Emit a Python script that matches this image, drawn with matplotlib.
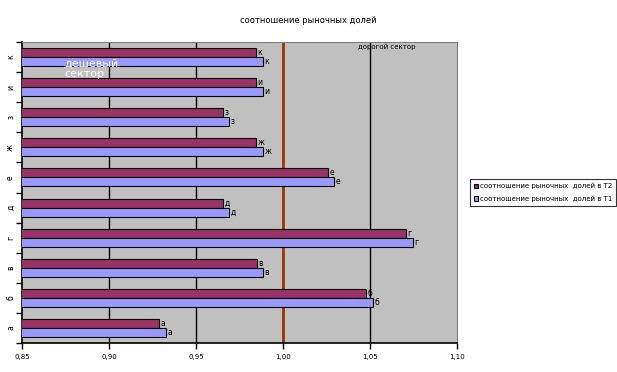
import matplotlib
matplotlib.use("Agg")
import matplotlib.pyplot as plt
import numpy as np

categories = ["а", "б", "в", "г", "д", "е", "ж", "з", "и", "к"]
share_t2 = [0.929, 1.0475, 0.985, 1.0705, 0.9655, 1.0257, 0.9845, 0.9655, 0.9845, 0.9845]
share_t1 = [0.9326, 1.0515, 0.9887, 1.0745, 0.969, 1.0295, 0.9885, 0.969, 0.9885, 0.9885]
x_ticks = [0.85, 0.90, 0.95, 1.00, 1.05, 1.10]

fig = plt.figure(figsize=(6.17, 3.72), dpi=100)
ax = fig.add_axes([0.0357, 0.078, 0.705, 0.809])
ax.set_facecolor("#C0C0C0")

y = np.arange(len(categories))
h = 0.3
ax.barh(y + h / 2, share_t2, height=h, left=0, color="#993366", edgecolor="black",
        linewidth=0.8, label="соотношение рыночных  долей в Т2", zorder=3)
ax.barh(y - h / 2, share_t1, height=h, left=0, color="#9999FF", edgecolor="black",
        linewidth=0.8, label="соотношение рыночных  долей в Т1", zorder=3)

for i, c in enumerate(categories):
    ax.text(share_t2[i] + 0.0008, y[i] + h / 2, c, fontsize=5.5, va="center", ha="left", zorder=4)
    ax.text(share_t1[i] + 0.0008, y[i] - h / 2, c, fontsize=5.5, va="center", ha="left", zorder=4)

ax.set_xlim(0.85, 1.10)
ax.set_ylim(-0.5, len(categories) - 0.5)
ax.set_xticks(x_ticks)
ax.set_xticklabels([f"{v:.2f}".replace(".", ",") for v in x_ticks], fontsize=5)
for v in x_ticks[1:-1]:
    if v == 1.00:
        ax.axvline(v, color="#993300", linewidth=2, zorder=2)
    else:
        ax.axvline(v, color="black", linewidth=1, zorder=2)

ax.set_yticks(y)
ax.set_yticklabels(categories, fontsize=5.5, rotation=90, va="center")
ax.tick_params(axis="y", length=0, pad=5)
ax.set_yticks(np.arange(-0.5, len(categories), 1), minor=True)
ax.tick_params(axis="y", which="minor", length=4, width=1)
ax.tick_params(axis="x", length=4, width=1, pad=4)

for side in ["top", "right"]:
    ax.spines[side].set_color("#808080")
for side in ["left", "bottom"]:
    ax.spines[side].set_color("black")
    ax.spines[side].set_linewidth(1.2)

ax.text(0.8745, 8.95, "дешевый\nсектор", color="white", fontsize=8, va="top", ha="left",
        linespacing=1.1, zorder=5)
ax.text(1.043, 9.45, "дорогой сектор", color="black", fontsize=5, va="top", ha="left", zorder=5)

fig.text(0.5, 0.945, "соотношение рыночных долей", fontsize=6, ha="center", va="center")

leg = ax.legend(loc="center left", bbox_to_anchor=(1.023, 0.5), fontsize=5, frameon=True,
                fancybox=False, edgecolor="black", handlelength=0.6, handleheight=0.6,
                handletextpad=0.3, borderpad=0.5, labelspacing=0.9)
leg.get_frame().set_linewidth(0.8)

fig.savefig("out.png", dpi=100)
